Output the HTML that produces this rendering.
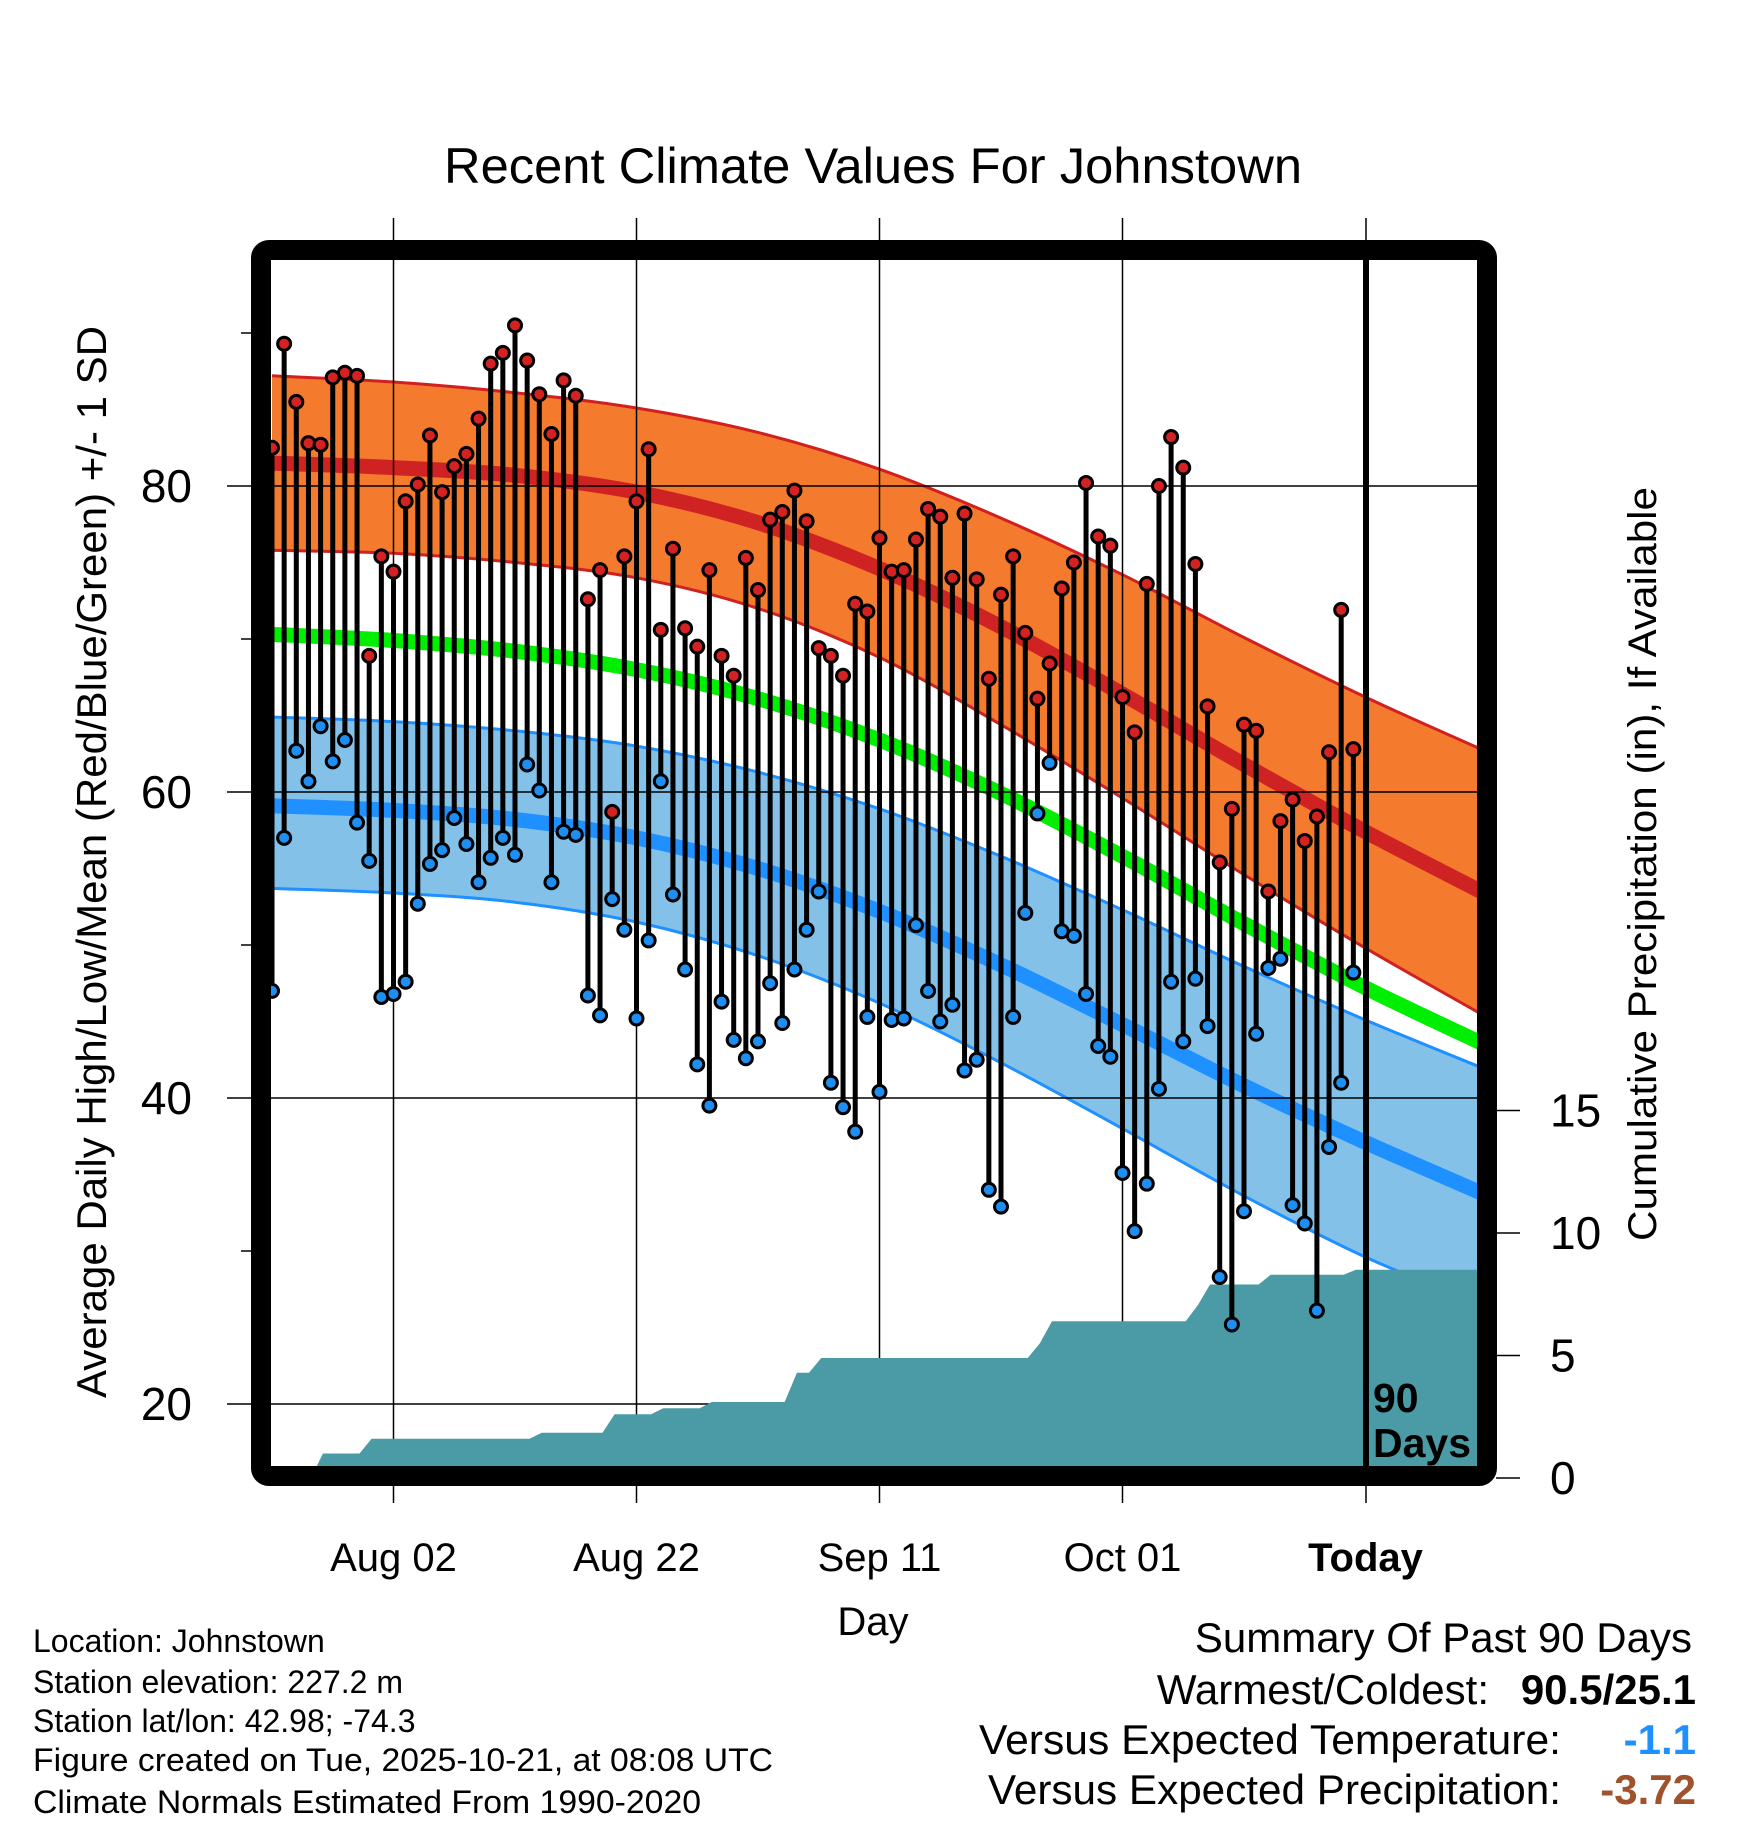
<!DOCTYPE html>
<html><head><meta charset="utf-8"><style>
html,body{margin:0;padding:0;background:#fff}
svg{display:block;font-family:"Liberation Sans",Arial,sans-serif}
</style></head><body>
<svg id="chart" width="1748" height="1828" viewBox="0 0 1748 1828" xmlns="http://www.w3.org/2000/svg">
<defs><clipPath id="plotclip"><rect x="271" y="260" width="1206" height="1206"/></clipPath></defs>
<g id="bands" clip-path="url(#plotclip)"></g>
<g id="grid"></g>
<g id="precip" clip-path="url(#plotclip)"></g>
<g id="marks" clip-path="url(#plotclip)"></g>
<line x1="1366" y1="218" x2="1366" y2="1503" stroke="#000" stroke-width="1.5"/>
<line x1="1366" y1="255" x2="1366" y2="1476" stroke="#000" stroke-width="6"/>
<rect x="261" y="250" width="1226" height="1226" rx="8" fill="none" stroke="#000" stroke-width="20"/>
<text x="873" y="183" text-anchor="middle" font-size="50" textLength="858" lengthAdjust="spacingAndGlyphs">Recent Climate Values For Johnstown</text>
<text transform="translate(106,862) rotate(-90)" text-anchor="middle" font-size="42" textLength="1072" lengthAdjust="spacingAndGlyphs">Average Daily High/Low/Mean (Red/Blue/Green) +/- 1 SD</text>
<text transform="translate(1656,864) rotate(-90)" text-anchor="middle" font-size="40" textLength="754" lengthAdjust="spacingAndGlyphs">Cumulative Precipitation (in), If Available</text>
<g id="yticks" font-size="46" text-anchor="end"></g>
<g id="y2ticks" font-size="46"></g>
<g id="xticks" font-size="40" text-anchor="middle"></g>
<text x="873" y="1635" text-anchor="middle" font-size="40">Day</text>
<text x="1373" y="1412" font-size="41" font-weight="bold">90</text>
<text x="1373" y="1457" font-size="41" font-weight="bold">Days</text>
<g font-size="32">
<text x="33" y="1652">Location: Johnstown</text>
<text x="33" y="1693">Station elevation: 227.2 m</text>
<text x="33" y="1732">Station lat/lon: 42.98; -74.3</text>
<text x="33" y="1771" textLength="740" lengthAdjust="spacingAndGlyphs">Figure created on Tue, 2025-10-21, at 08:08 UTC</text>
<text x="33" y="1813" textLength="668" lengthAdjust="spacingAndGlyphs">Climate Normals Estimated From 1990-2020</text>
</g>
<g font-size="42" text-anchor="end">
<text x="1692" y="1652">Summary Of Past 90 Days</text>
<text x="1489" y="1704">Warmest/Coldest:</text>
<text x="1696" y="1704" font-weight="bold">90.5/25.1</text>
<text x="1561" y="1754" textLength="582" lengthAdjust="spacingAndGlyphs">Versus Expected Temperature:</text>
<text x="1696" y="1754" font-weight="bold" fill="#1e90ff">-1.1</text>
<text x="1561" y="1804" textLength="573" lengthAdjust="spacingAndGlyphs">Versus Expected Precipitation:</text>
<text x="1696" y="1804" font-weight="bold" fill="#a0522d">-3.72</text>
</g>
</svg>
<script>
const highs = [82.5,89.3,85.5,82.8,82.7,87.1,87.4,87.2,68.9,75.4,74.4,79.0,80.1,83.3,79.6,81.3,82.1,84.4,88.0,88.7,90.5,88.2,86.0,83.4,86.9,85.9,72.6,74.5,58.7,75.4,79.0,82.4,70.6,75.9,70.7,69.5,74.5,68.9,67.6,75.3,73.2,77.8,78.3,79.7,77.7,69.4,68.9,67.6,72.3,71.8,76.6,74.4,74.5,76.5,78.5,78.0,74.0,78.2,73.9,67.4,72.9,75.4,70.4,66.1,68.4,73.3,75.0,80.2,76.7,76.1,66.2,63.9,73.6,80.0,83.2,81.2,74.9,65.6,55.4,58.9,64.4,64.0,53.5,58.1,59.5,56.8,58.4,62.6,71.9,62.8];
const lows = [47.0,57.0,62.7,60.7,64.3,62.0,63.4,58.0,55.5,46.6,46.8,47.6,52.7,55.3,56.2,58.3,56.6,54.1,55.7,57.0,55.9,61.8,60.1,54.1,57.4,57.2,46.7,45.4,53.0,51.0,45.2,50.3,60.7,53.3,48.4,42.2,39.5,46.3,43.8,42.6,43.7,47.5,44.9,48.4,51.0,53.5,41.0,39.4,37.8,45.3,40.4,45.1,45.2,51.3,47.0,45.0,46.1,41.8,42.5,34.0,32.9,45.3,52.1,58.6,61.9,50.9,50.6,46.8,43.4,42.7,35.1,31.3,34.4,40.6,47.6,43.7,47.8,44.7,28.3,25.2,32.6,44.2,48.5,49.1,33.0,31.8,26.1,36.8,41.0,48.2];
const precipCum = [0,0,0,0,1.0,1.0,1.0,1.0,1.6,1.6,1.6,1.6,1.6,1.6,1.6,1.6,1.6,1.6,1.6,1.6,1.6,1.6,1.85,1.85,1.85,1.85,1.85,1.85,2.6,2.6,2.6,2.6,2.85,2.85,2.85,2.85,3.1,3.1,3.1,3.1,3.1,3.1,3.1,4.3,4.3,4.9,4.9,4.9,4.9,4.9,4.9,4.9,4.9,4.9,4.9,4.9,4.9,4.9,4.9,4.9,4.9,4.9,4.9,5.5,6.4,6.4,6.4,6.4,6.4,6.4,6.4,6.4,6.4,6.4,6.4,6.4,7.05,7.9,7.9,7.9,7.9,7.9,8.3,8.3,8.3,8.3,8.3,8.3,8.3,8.5];
const normDays = [0,10,20,30,40,50,60,70,80,90,99.5];
const highUpper = [87.2,86.8,86.1,85.1,83.5,81.1,77.9,74.2,70.1,66.2,62.8];
const highMean = [81.5,81.2,80.7,79.6,77.6,74.6,70.8,66.4,61.8,57.4,53.5];
const highLower = [75.8,75.6,75.0,74.0,72.0,68.8,64.4,59.6,54.6,49.8,45.5];
const dailyMean = [70.3,69.9,69.2,68.0,66.1,63.4,59.9,55.8,51.4,47.2,43.6];
const lowUpper = [64.9,64.6,64.0,63.0,61.3,58.9,55.8,52.3,48.6,45.1,42.0];
const lowMean = [59.1,58.8,58.2,57.0,55.0,52.2,48.7,44.8,40.8,37.1,33.8];
const lowLower = [53.7,53.4,52.8,51.5,49.3,46.2,42.3,38.0,33.6,29.6,26.5];
const yTicks = [20,40,60,80];
const yMinor = [30,50,70,90];
const y2Ticks = [0,5,10,15];
const xTickDays = [10,30,50,70,90];
const xTickLabels = ["Aug 02","Aug 22","Sep 11","Oct 01","Today"];

const NS = "http://www.w3.org/2000/svg";
const X = d => 272 + 12.15 * d;
const Y = v => 486 + (80 - v) * 15.3;
const YP = p => 1478 - p * 24.5;
function mk(tag, attrs, parent){ const e=document.createElementNS(NS,tag); for(const k in attrs) e.setAttribute(k,attrs[k]); parent.appendChild(e); return e; }
const bands=document.getElementById('bands'), grid=document.getElementById('grid'), pg=document.getElementById('precip'), marks=document.getElementById('marks');
function pts(arr){ return normDays.map((d,i)=>[X(d),Y(arr[i])]); }
function smooth(p, move){
  let s = (move?'M':'L')+p[0][0].toFixed(1)+','+p[0][1].toFixed(1);
  for(let i=0;i<p.length-1;i++){
    const p0=p[Math.max(i-1,0)], p1=p[i], p2=p[i+1], p3=p[Math.min(i+2,p.length-1)];
    const c1=[p1[0]+(p2[0]-p0[0])/6, p1[1]+(p2[1]-p0[1])/6];
    const c2=[p2[0]-(p3[0]-p1[0])/6, p2[1]-(p3[1]-p1[1])/6];
    s+=' C'+c1[0].toFixed(1)+','+c1[1].toFixed(1)+' '+c2[0].toFixed(1)+','+c2[1].toFixed(1)+' '+p2[0].toFixed(1)+','+p2[1].toFixed(1);
  }
  return s;
}
function band(up, lo, fill, edge, name){
  const d = smooth(pts(up), true) + ' ' + smooth(pts(lo).reverse(), false) + ' Z';
  const p = mk('path',{d:d,fill:fill},bands);
  
  
  [up,lo].forEach(a=>{ const l=mk('path',{d:smooth(pts(a),true),fill:'none',stroke:edge,'stroke-width':3},bands);
    
     });
}
function meanLine(arr, color, name){
  const l = mk('path',{d:smooth(pts(arr),true),fill:'none',stroke:color,'stroke-width':15},bands);
  
  
}
band(lowUpper, lowLower, '#84c1e8', '#1e90ff', 'low-sd-band');
meanLine(lowMean, '#1e90ff', 'normal-low-line');
meanLine(dailyMean, '#00ee00', 'normal-mean-line');
band(highUpper, highLower, '#f47a2e', '#d02020', 'high-sd-band');
meanLine(highMean, '#cf2222', 'normal-high-line');

const yt=document.getElementById('yticks');
yTicks.forEach(v=>{ const g=mk('line',{x1:227,x2:1477,y1:Y(v),y2:Y(v),stroke:'#000','stroke-width':1.5},grid);
  
  
  const t=mk('text',{x:192,y:Y(v)+16},yt); t.textContent=v;
  
   });
yMinor.forEach(v=>{ const g=mk('line',{x1:241,x2:252,y1:Y(v),y2:Y(v),stroke:'#000','stroke-width':1.5},grid);
  
   });
const xt=document.getElementById('xticks');
xTickDays.forEach((d,i)=>{ if(i<xTickDays.length-1){ const g=mk('line',{x1:X(d),x2:X(d),y1:218,y2:1503,stroke:'#000','stroke-width':1.5},grid);
  
   }
  const t=mk('text',{x:X(d),y:1571},xt); t.textContent=xTickLabels[i];
  if(xTickLabels[i]==='Today') t.setAttribute('font-weight','bold');
  
   });
const y2=document.getElementById('y2ticks');
y2Ticks.forEach(p=>{ const g=mk('line',{x1:1496,x2:1520,y1:YP(p),y2:YP(p),stroke:'#000','stroke-width':1.5},y2);
  
  
  const t=mk('text',{x:1550,y:YP(p)+16},y2); t.textContent=p;
  
   });

const ppts=[X(-1)+','+YP(0)];
precipCum.forEach((p,d)=>ppts.push(X(d+0.2).toFixed(1)+','+YP(p).toFixed(1)));
ppts.push(X(100)+','+YP(precipCum[precipCum.length-1]));
ppts.push(X(100)+','+YP(-1)); ppts.push(X(-1)+','+YP(-1));
const pa=mk('polygon',{points:ppts.join(' '),fill:'#4a9ba5'},pg);



highs.forEach((h,d)=>{ const l=lows[d];
  const s=mk('line',{x1:X(d),x2:X(d),y1:Y(h),y2:Y(l),stroke:'#000','stroke-width':5},marks);
  
  
  const c1=mk('circle',{cx:X(d),cy:Y(h),r:6.5,fill:'#d42222',stroke:'#000','stroke-width':3},marks);
  
  
  const c2=mk('circle',{cx:X(d),cy:Y(l),r:6.5,fill:'#1e8ff0',stroke:'#000','stroke-width':3},marks);
  
  
});
</script>
</body></html>
